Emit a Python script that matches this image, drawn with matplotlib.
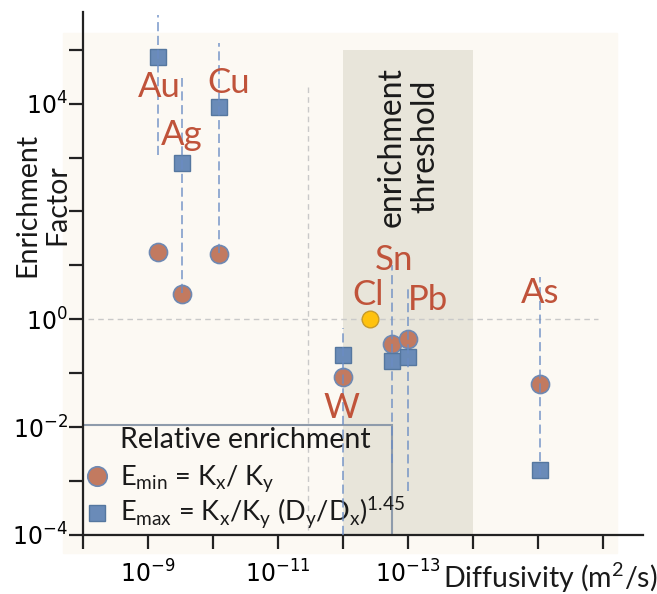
import numpy as np
import matplotlib
matplotlib.use('Agg')
import matplotlib.pyplot as plt
from matplotlib.patches import Rectangle

plt.rcParams['font.family'] = ['Lato', 'DejaVu Sans']
plt.rcParams['mathtext.fontset'] = 'custom'
plt.rcParams['mathtext.rm'] = 'Lato'

# ── Data ────────────────────────────────────────────────

elements = ['Au', 'Ag', 'Cu', 'W', 'Sn', 'Pb', 'As']
diffusivity = [7.1e-10, 3.0e-10, 8.1e-11, 1.0e-12, 1.8e-13, 1.0e-13, 9.5e-16]
e_min = [18, 2.9, 16, 0.087, 0.35, 0.44, 0.062]
e_max = [7.4e4, 780, 8500, 0.22, 0.17, 0.20, 1.6e-3]
range_lo = [1.1e3, 3.1, 17, 1e-4, 2.2e-3, 6.5e-4, 1.3e-3]
range_hi = [4.5e5, 3.0e4, 1.35e5, 0.7, 10, 4.0, 6.2]

cl_diffusivity = 3.8e-13
cl_enrichment = 1.0

threshold_band = (1e-12, 1e-14)

# label anchors (x, baseline y) for the element names
label_pos = {
    'Au': (10**-9.18, 10**4.13), 'Ag': (10**-9.51, 10**3.24),
    'Cu': (10**-10.24, 10**4.20), 'W': (10**-11.98, 10**-1.83),
    'Sn': (10**-12.79, 10**0.92), 'Pb': (10**-13.30, 10**0.18),
    'As': (10**-15.03, 10**0.31), 'Cl': (10**-12.38, 10**0.27),
}

y_labels = {4: '10^{4}', 0: '10^{0}', -2: '10^{-2}', -4: '10^{-4}'}
x_labels = {9: '10^{-9}', 11: '10^{-11}', 13: '10^{-13}'}

RED = '#c0533a'
CIRCLE = '#c27a60'
CIRCLE_EDGE = '#6e89b3'
SQUARE = '#6a8bb8'
SQUARE_EDGE = '#55779f'
LINE = '#6a8cc4'

# ── Figure ──────────────────────────────────────────────

W, H = 657, 594
fig = plt.figure(figsize=(W / 100, H / 100), dpi=100)
fig.add_artist(Rectangle((63 / W, 1 - 553 / H), 554 / W, 520 / H,
                         transform=fig.transFigure, color='#fcf9f3', zorder=0))
ax = fig.add_axes([83 / W, 1 - 535 / H, 560 / W, 523 / H])
ax.set_facecolor('none')
ax.set_xscale('log')
ax.set_yscale('log')
ax.set_xlim(1e-8, 10**-16.61)
ax.set_ylim(1e-4, 10**5.70)

ax.add_patch(Rectangle((threshold_band[1], 1e-4),
                       threshold_band[0] - threshold_band[1], 1e5 - 1e-4,
                       color='#e8e5da', zorder=0.5, lw=0))
ax.text(10**-13.0, 10**3.2, 'enrichment\nthreshold', rotation=90,
        ha='center', va='center', fontsize=23, color='#1a1a1a', linespacing=1.15)

# reference lines
ax.plot([10**-8.08, 10**-15.92], [1, 1], ls=(0, (4, 3)), color='#c9c9c9', lw=1, zorder=1)
ax.plot([10**-11.46] * 2, [10**4.31, 1e-4], ls=(0, (4, 3)), color='#c9c9c9', lw=1, zorder=1)

# markers + ranges
ax.plot(diffusivity, e_min, 'o', ms=13, mfc=CIRCLE, mec=CIRCLE_EDGE, mew=1.2, ls='none', zorder=3)
ax.plot(diffusivity, e_max, 's', ms=11, mfc=SQUARE, mec=SQUARE_EDGE, mew=1, ls='none', zorder=3)
for d, lo, hi in zip(diffusivity, range_lo, range_hi):
    ax.plot([d, d], [lo, hi], ls=(0, (6, 3)), color=LINE, lw=1.1, alpha=0.9, zorder=4)
ax.plot([cl_diffusivity], [cl_enrichment], 'o', ms=12, mfc='#ffc20e', mec='#c79a2a', mew=1, zorder=3)

for name, (lx, ly) in label_pos.items():
    ax.text(lx, ly, name, color=RED, fontsize=25, ha='center', va='baseline', zorder=5)

# axes styling
for s in ['top', 'right']:
    ax.spines[s].set_visible(False)
for s in ['left', 'bottom']:
    ax.spines[s].set_linewidth(1.6)
    ax.spines[s].set_color('#222222')
ax.set_yticks([10.0**k for k in range(-4, 6)])
ax.set_yticklabels([r'$\mathregular{%s}$' % y_labels[k] if k in y_labels else '' for k in range(-4, 6)],
                   family='DejaVu Sans', fontsize=17)
ax.set_xticks([10.0**-k for k in range(8, 17)])
ax.set_xticklabels([r'$\mathregular{%s}$' % x_labels[k] if k in x_labels else '' for k in range(8, 17)],
                   family='DejaVu Sans', fontsize=17)
ax.minorticks_off()
ax.tick_params(length=10, width=1.6, color='#222222', direction='out')
ax.tick_params(axis='y', pad=1)
ax.tick_params(axis='x', pad=8)

fig.text(443 / W, 1 - 578 / H, 'Diffusivity (m$^{2}$/s)', fontsize=20.5, ha='left', va='center', color='#1a1a1a')
fig.text(42 / W, 1 - 205 / H, 'Enrichment\nFactor', rotation=90, fontsize=20.5,
         ha='center', va='center', multialignment='center', color='#1a1a1a')

# legend box
ax.add_patch(Rectangle((0, 0), 309 / 560, 110 / 523, transform=ax.transAxes,
                       fill=False, ec='#8e9bab', lw=1.5, zorder=2))
ax.text(37 / 560, 95 / 523, 'Relative enrichment', transform=ax.transAxes,
        fontsize=20.5, va='center', ha='left', color='#1a1a1a')
ax.plot([14 / 560], [59 / 523], 'o', ms=14, mfc=CIRCLE, mec=CIRCLE_EDGE, mew=1.2,
        transform=ax.transAxes, clip_on=False, zorder=3)
ax.plot([14 / 560], [22 / 523], 's', ms=11, mfc=SQUARE, mec=SQUARE_EDGE, mew=1,
        transform=ax.transAxes, clip_on=False, zorder=3)
ax.text(37 / 560, 50 / 523, r'E$_{\mathregular{min}}$ = K$_{\mathregular{x}}$/ K$_{\mathregular{y}}$',
        transform=ax.transAxes, fontsize=19.5, va='baseline', ha='left', color='#1a1a1a')
ax.text(37 / 560, 15 / 523,
        r'E$_{\mathregular{max}}$ = K$_{\mathregular{x}}$/K$_{\mathregular{y}}$ '
        r'(D$_{\mathregular{y}}$/D$_{\mathregular{x}}$)$^{\mathregular{1.45}}$',
        transform=ax.transAxes, fontsize=19.5, va='baseline', ha='left', color='#1a1a1a')

plt.savefig('out.png', dpi=100)
plt.close()
